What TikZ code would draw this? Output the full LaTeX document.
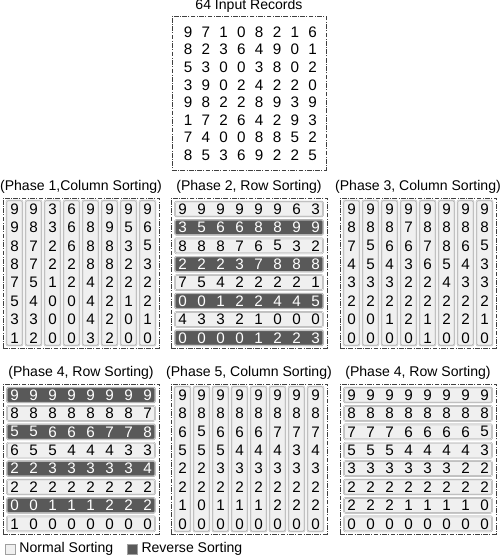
\documentclass[tikz,border=0pt]{standalone}
\usepackage{fontspec}
\setmainfont{Liberation Sans}
\usepackage{tikz}
\usetikzlibrary{positioning}
\tikzset{
panel/.style={
draw=black!75,
line width=0.8pt,
dash pattern=on 4pt off 1.2pt on 0.8pt off 1.2pt,
minimum width=4.68cm,
minimum height=4.5cm,
inner sep=0pt
},
title/.style={
inner sep=0pt,
font=\fontsize{12}{14}\selectfont
},
digit/.style={
inner sep=0pt,
font=\fontsize{13}{15}\selectfont
},
colbar/.style={
draw=gray!75,
double=white,
double distance=0.4pt,
fill=gray!12,
rounded corners=1pt,
minimum width=0.48cm,
minimum height=4.35cm,
inner sep=0pt
},
normbar/.style={
colbar,
minimum width=4.44cm,
minimum height=0.45cm
},
revbar/.style={
normbar,
double=gray!30,
fill=black!65
},
legbox/.style={
draw=gray!75,
minimum size=0.3cm,
inner sep=0pt
}
}

% name, first x, first y, dx, dy, parity of reverse rows (2 = none), rows
\newcommand{\digitgrid}[7]{%
\foreach \rowlist [count=\i] in {#7}{%
\pgfmathtruncatemacro\dark{mod(\i,2)==#6}%
\ifnum\dark=1 \def\dcol{white}\else\def\dcol{black}\fi
\foreach \d [count=\j] in \rowlist
\node[digit,text=\dcol] (#1-\i-\j) at ({#2+(\j-1)*#4},{#3+(\i-1)*#5}) {\d};
}}
% name, first x, center y
\newcommand{\colbars}[3]{%
\foreach \j in {1,...,8}
\node[colbar] (#1-c\j) at ({#2+(\j-1)*19},{#3}) {};
}
% name, center x, first y, parity of reverse rows
\newcommand{\rowbars}[4]{%
\foreach \i in {1,...,8}{%
\pgfmathtruncatemacro\dark{mod(\i,2)==#4}%
\ifnum\dark=1
\node[revbar] (#1-r\i) at ({#2},{#3+(\i-1)*18.4}) {};
\else
\node[normbar] (#1-r\i) at ({#2},{#3+(\i-1)*18.4}) {};
\fi}}

\begin{document}
\begin{tikzpicture}[x=0.03cm,y=-0.03cm]
\useasboundingbox (0,0) rectangle (500,557);

% input records
\node[panel,minimum width=4.62cm,minimum height=4.62cm](inp) at (249,93){};
\node[title,above=0.8mm of inp](inpt){64 Input Records};
\digitgrid{in}{188}{32}{17.8}{17.6}{2}{{9,7,1,0,8,2,1,6},{8,2,3,6,4,9,0,1},{5,3,0,0,3,8,0,2},{3,9,0,2,4,2,2,0},{9,8,2,2,8,9,3,9},{1,7,2,6,4,2,9,3},{7,4,0,0,8,8,5,2},{8,5,3,6,9,2,2,5}}

% phase 1
\node[panel](p1) at (81,273){};
\node[title,above=1.3mm of p1](p1t){(Phase 1,Column Sorting)};
\colbars{p1}{14.5}{273}
\digitgrid{p1}{14.5}{209}{19}{18.4}{2}{{9,9,3,6,9,9,9,9},{9,8,3,6,8,9,5,6},{8,7,2,6,8,8,3,5},{8,7,2,2,8,8,2,3},{7,5,1,2,4,2,2,2},{5,4,0,0,4,2,1,2},{3,3,0,0,4,2,0,1},{1,2,0,0,3,2,0,0}}

% phase 2
\node[panel](p2) at (249,273){};
\node[title,above=1.3mm of p2](p2t){(Phase 2, Row Sorting)};
\rowbars{p2}{249}{209}{0}
\digitgrid{p2}{182.5}{209}{19}{18.4}{0}{{9,9,9,9,9,9,6,3},{3,5,6,6,8,8,9,9},{8,8,8,7,6,5,3,2},{2,2,2,3,7,8,8,8},{7,5,4,2,2,2,2,1},{0,0,1,2,2,4,4,5},{4,3,3,2,1,0,0,0},{0,0,0,0,1,2,2,3}}

% phase 3
\node[panel](p3) at (418,273){};
\node[title,above=1.3mm of p3](p3t){(Phase 3, Column Sorting)};
\colbars{p3}{351.5}{273}
\digitgrid{p3}{351.5}{209}{19}{18.4}{2}{{9,9,9,9,9,9,9,9},{8,8,8,7,8,8,8,8},{7,5,6,6,7,8,6,5},{4,5,4,3,6,5,4,3},{3,3,3,2,2,4,3,3},{2,2,2,2,2,2,2,2},{0,0,1,2,1,2,2,1},{0,0,0,0,1,0,0,0}}

% phase 4
\node[panel](p4) at (81,459){};
\node[title,above=1.3mm of p4](p4t){(Phase 4, Row Sorting)};
\rowbars{p4}{81}{395}{1}
\digitgrid{p4}{14.5}{395}{19}{18.4}{1}{{9,9,9,9,9,9,9,9},{8,8,8,8,8,8,8,7},{5,5,6,6,6,7,7,8},{6,5,5,4,4,4,3,3},{2,2,3,3,3,3,3,4},{2,2,2,2,2,2,2,2},{0,0,1,1,1,2,2,2},{1,0,0,0,0,0,0,0}}

% phase 5
\node[panel](p5) at (249,459){};
\node[title,above=1.3mm of p5](p5t){(Phase 5, Column Sorting)};
\colbars{p5}{182.5}{459}
\digitgrid{p5}{182.5}{395}{19}{18.4}{2}{{9,9,9,9,9,9,9,9},{8,8,8,8,8,8,8,8},{6,5,6,6,6,7,7,7},{5,5,5,4,4,4,3,4},{2,2,3,3,3,3,3,3},{2,2,2,2,2,2,2,2},{1,0,1,1,1,2,2,2},{0,0,0,0,0,0,0,0}}

% last row sorting
\node[panel](p6) at (418,459){};
\node[title,above=1.3mm of p6](p6t){(Phase 4, Row Sorting)};
\rowbars{p6}{418}{395}{2}
\digitgrid{p6}{351.5}{395}{19}{18.4}{2}{{9,9,9,9,9,9,9,9},{8,8,8,8,8,8,8,8},{7,7,7,6,6,6,6,5},{5,5,5,4,4,4,4,3},{3,3,3,3,3,3,2,2},{2,2,2,2,2,2,2,2},{2,2,2,1,1,1,1,0},{0,0,0,0,0,0,0,0}}

% legend
\node[legbox,fill=gray!12](lnorm) at (10,549){};
\node[title,right=1.2mm of lnorm](tnorm){Normal Sorting};
\node[legbox,fill=black!65,right=4mm of tnorm](lrev){};
\node[title,right=1.2mm of lrev](trev){Reverse Sorting};
\end{tikzpicture}
\end{document}
